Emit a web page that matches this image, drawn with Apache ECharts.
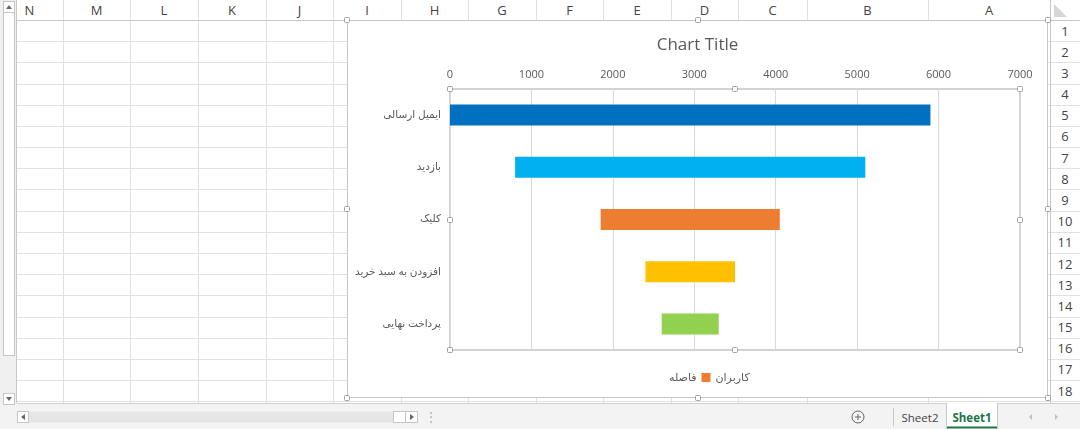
<!DOCTYPE html>
<html><head><meta charset="utf-8">
<script src="https://cdn.jsdelivr.net/npm/echarts@6/dist/echarts.min.js"></script>
<style>
html,body{margin:0;padding:0;width:1080px;height:429px;overflow:hidden;background:#fff;font-family:'Open Sans','Noto Sans',sans-serif;}
#sheet{position:absolute;left:0;top:0;}
#chartBox{position:absolute;left:347px;top:20px;width:701px;height:378px;background:#fff;}
#chart{position:absolute;left:0;top:0;width:701px;height:378px;}
#chartBorder{position:absolute;left:347px;top:20px;width:701px;height:378px;box-sizing:border-box;border:1px solid #c6c6c6;pointer-events:none;}
.h{position:absolute;width:4px;height:4px;background:#fff;border:1px solid #a0a0a0;border-radius:1.5px;}
</style></head><body>
<svg id="sheet" width="1080" height="429" xmlns="http://www.w3.org/2000/svg"></svg>
<div id="chartBox"><div id="chart"></div></div>
<div id="chartBorder"></div>
<div id="handles"></div>
<script>
// ---- chart data ----
const categories = ['ایمیل ارسالی', 'بازدید', 'کلیک', 'افزودن به سبد خرید', 'پرداخت نهایی'];
const spacerValues = [0, 800, 1850, 2400, 2600];
const userValues = [5900, 4300, 2200, 1100, 700];
const barColors = ['#0070C0', '#00B0F0', '#ED7D31', '#FFC000', '#92D050'];
const seriesNames = ['فاصله', 'کاربران'];
const chartTitle = 'Chart Title';
const xMin = 0, xMax = 7000, xStep = 1000;

// ---- spreadsheet frame (layout only) ----
const colEdges = [17, 63, 130, 198, 266, 333, 401, 468, 536, 603, 671, 738, 807, 928, 1050];
const colLetters = ['N', 'M', 'L', 'K', 'J', 'I', 'H', 'G', 'F', 'E', 'D', 'C', 'B', 'A'];
const rowTop = 20, rowH = 21.18, rowCount = 18, gridBottom = 403;

(function drawSheet() {
  let s = '';
  s += `<rect x="0" y="${gridBottom}" width="1080" height="${429 - gridBottom}" fill="#f3f3f3"/>`;
  for (let i = 1; i <= rowCount + 1; i++) {
    const y = Math.round(rowTop + rowH * i) + 0.5;
    if (y < gridBottom) s += `<line x1="17" x2="1080" y1="${y}" y2="${y}" stroke="#e1e1e1"/>`;
  }
  colEdges.forEach((x, i) => {
    if (i === 0) return;
    s += `<line x1="${x + 0.5}" x2="${x + 0.5}" y1="0" y2="${gridBottom}" stroke="#e1e1e1"/>`;
  });
  s += `<line x1="17" x2="1080" y1="20.5" y2="20.5" stroke="#c8c8c8"/>`;
  s += `<line x1="1050.5" x2="1050.5" y1="0" y2="${gridBottom}" stroke="#c8c8c8"/>`;
  s += `<line x1="17" x2="1080" y1="${gridBottom + 0.5}" y2="${gridBottom + 0.5}" stroke="#d0d0d0"/>`;
  colLetters.forEach((c, i) => {
    let cx = (colEdges[i] + colEdges[i + 1]) / 2;
    if (i === 0) cx = colEdges[1] - 33.5;
    s += `<text x="${cx}" y="15" text-anchor="middle" font-size="13" fill="#444" font-family="Open Sans">${c}</text>`;
  });
  for (let r = 1; r <= rowCount; r++) {
    const cy = rowTop + rowH * (r - 0.5) + 5;
    s += `<text x="1065" y="${cy}" text-anchor="middle" font-size="13" fill="#444" font-family="Open Sans">${r}</text>`;
  }
  s += `<polygon points="1054,4 1054,17 1067,17" fill="#d6d6d6"/>`;
  s += `<rect x="0" y="0" width="17" height="${gridBottom}" fill="#f0f0f0"/>`;
  s += `<line x1="16.5" x2="16.5" y1="0" y2="${gridBottom}" stroke="#c6c6c6"/>`;
  s += `<rect x="3.5" y="12.5" width="11" height="343" fill="#fff" stroke="#c6c6c6"/>`;
  s += `<rect x="3.5" y="1.5" width="11" height="11" fill="#fff" stroke="#c6c6c6"/>`;
  s += `<polygon points="6,9 12,9 9,5" fill="#666"/>`;
  s += `<rect x="3.5" y="393.5" width="11" height="11" fill="#fff" stroke="#c6c6c6"/>`;
  s += `<polygon points="6,397 12,397 9,401" fill="#666"/>`;
  s += `<rect x="28.5" y="411.5" width="365" height="11" fill="#e6e6e6"/>`;
  s += `<rect x="17.5" y="411.5" width="11" height="11" fill="#fff" stroke="#c6c6c6"/>`;
  s += `<polygon points="25,414 25,420 21,417" fill="#666"/>`;
  s += `<rect x="393.5" y="411.5" width="12" height="11" fill="#fff" stroke="#c6c6c6"/>`;
  s += `<rect x="405.5" y="411.5" width="12" height="11" fill="#fff" stroke="#c6c6c6"/>`;
  s += `<polygon points="410,414 410,420 414,417" fill="#666"/>`;
  s += `<text x="431" y="421" text-anchor="middle" font-size="12" fill="#b0b0b0">⋮</text>`;
  s += `<circle cx="858" cy="417" r="6" fill="none" stroke="#666"/>`;
  s += `<line x1="855" x2="861" y1="417" y2="417" stroke="#666"/><line x1="858" x2="858" y1="414" y2="420" stroke="#666"/>`;
  s += `<line x1="893.5" x2="893.5" y1="408" y2="426" stroke="#c8c8c8"/>`;
  s += `<text x="920" y="422" text-anchor="middle" font-size="11.5" fill="#444" font-family="Open Sans">Sheet2</text>`;
  s += `<rect x="946" y="403" width="52" height="26" fill="#fff"/>`;
  s += `<line x1="946.5" x2="946.5" y1="403" y2="429" stroke="#c8c8c8"/><line x1="997.5" x2="997.5" y1="403" y2="429" stroke="#c8c8c8"/>`;
  s += `<line x1="947" x2="997" y1="427.5" y2="427.5" stroke="#217346" stroke-width="2"/>`;
  s += `<text x="972" y="422" text-anchor="middle" font-size="11.5" font-weight="bold" fill="#217346" font-family="Open Sans">Sheet1</text>`;
  s += `<polygon points="1032,414 1032,420 1029,417" fill="#c0c0c0"/>`;
  s += `<polygon points="1055,414 1055,420 1058,417" fill="#c0c0c0"/>`;
  document.getElementById('sheet').innerHTML = s;
})();

(function drawHandles() {
  const pts = [
    [347, 20], [698, 20], [1048, 20], [347, 209], [1048, 209], [347, 398], [698, 398], [1048, 398],
    [450, 89], [735, 89], [1020, 89], [450, 219.5], [1020, 219.5], [450, 350], [735, 350], [1020, 350]
  ];
  let h = '';
  pts.forEach(p => { h += `<div class="h" style="left:${p[0] - 3}px;top:${p[1] - 3}px"></div>`; });
  document.getElementById('handles').innerHTML = h;
})();

// ---- chart ----
const FONT = "'Open Sans','DejaVu Sans',sans-serif";
const chart = echarts.init(document.getElementById('chart'), null, { renderer: 'canvas' });
chart.setOption({
  animation: false,
  backgroundColor: '#fff',
  title: {
    text: chartTitle, left: 'center', top: 12,
    textStyle: { fontFamily: FONT, fontSize: 17, fontWeight: 'normal', color: '#595959' }
  },
  legend: {
    data: seriesNames, left: 303, top: 347, icon: 'rect', itemWidth: 9, itemHeight: 9, itemGap: 5,
    textStyle: { fontFamily: FONT, fontSize: 11, color: '#595959' }
  },
  grid: { left: 103, top: 69, width: 570, height: 261, show: true, borderColor: '#a6a6a6', borderWidth: 1, backgroundColor: 'transparent', containLabel: false },
  xAxis: {
    type: 'value', position: 'top', min: xMin, max: xMax, interval: xStep,
    axisLine: { show: false }, axisTick: { show: false },
    axisLabel: { margin: 9, fontFamily: FONT, fontSize: 11, color: '#595959', formatter: v => String(v) },
    splitLine: { show: true, lineStyle: { color: '#d9d9d9', width: 1 } }
  },
  yAxis: {
    type: 'category', data: categories, inverse: true,
    axisLine: { show: false }, axisTick: { show: false }, splitLine: { show: false },
    axisLabel: { margin: 9, fontFamily: FONT, fontSize: 10.5, color: '#595959' }
  },
  series: [
    {
      name: seriesNames[0], type: 'bar', stack: 'funnel', barWidth: 21,
      itemStyle: { color: 'rgba(0,0,0,0)' }, emphasis: { disabled: true },
      data: spacerValues
    },
    {
      name: seriesNames[1], type: 'bar', stack: 'funnel', barWidth: 21,
      itemStyle: { color: '#ED7D31' }, emphasis: { disabled: true },
      data: userValues.map((v, i) => ({ value: v, itemStyle: { color: barColors[i] } }))
    }
  ]
});
</script>
</body></html>
